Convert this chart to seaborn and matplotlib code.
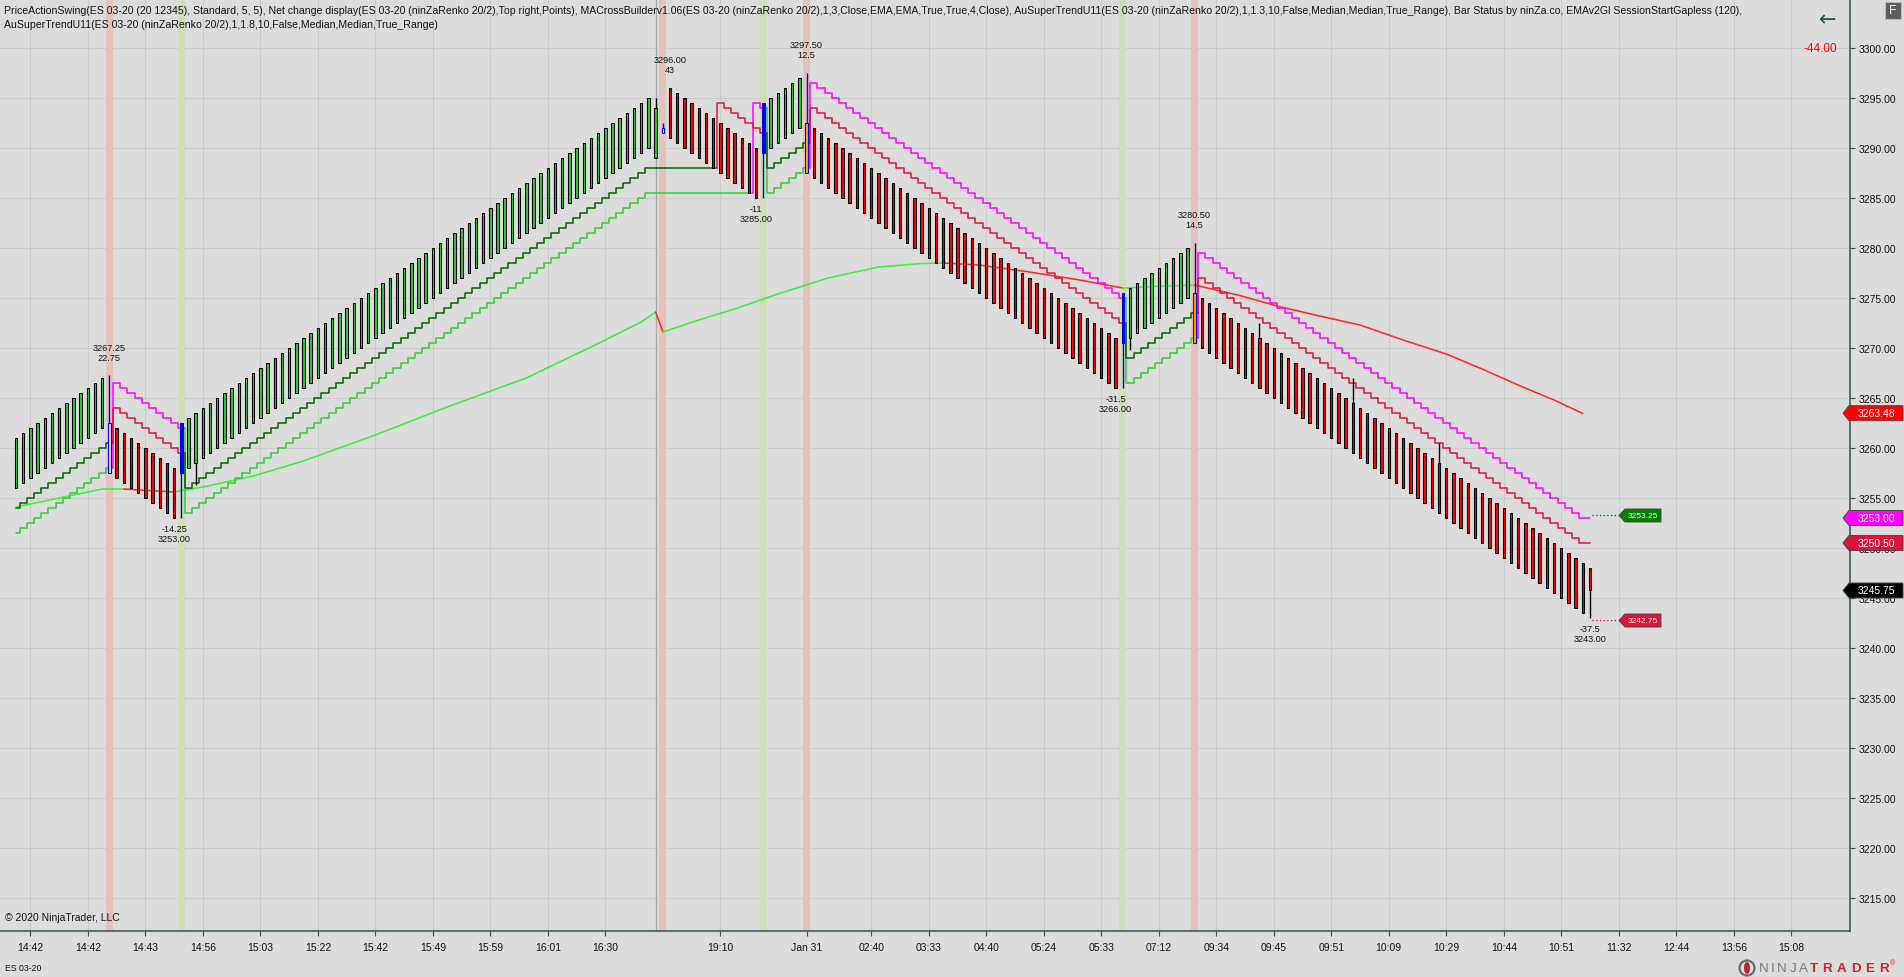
import numpy as np
import matplotlib
matplotlib.use("Agg")
import matplotlib.pyplot as plt
from matplotlib.patches import Polygon, Rectangle, Ellipse
import seaborn as sns

# ---- renko bars (ninZaRenko 20/2), one entry per bar ----
bar_open = [
    3256.0, 3256.5, 3257.0, 3257.5, 3258.0, 3258.5, 3259.0, 3259.5, 3260.0, 3260.5,
    3261.0, 3261.5, 3262.0,
    3262.5,
    3262.0, 3261.5, 3261.0, 3260.5, 3260.0, 3259.5, 3259.0, 3258.5, 3258.0,
    3257.5,
    3258.0, 3258.5, 3259.0, 3259.5, 3260.0, 3260.5, 3261.0, 3261.5, 3262.0, 3262.5,
    3263.0, 3263.5, 3264.0, 3264.5, 3265.0, 3265.5, 3266.0, 3266.5, 3267.0, 3267.5,
    3268.0, 3268.5, 3269.0, 3269.5, 3270.0, 3270.5, 3271.0, 3271.5, 3272.0, 3272.5,
    3273.0, 3273.5, 3274.0, 3274.5, 3275.0, 3275.5, 3276.0, 3276.5, 3277.0, 3277.5,
    3278.0, 3278.5, 3279.0, 3279.5, 3280.0, 3280.5, 3281.0, 3281.5, 3282.0, 3282.5,
    3283.0, 3283.5, 3284.0, 3284.5, 3285.0, 3285.5, 3286.0, 3286.5, 3287.0, 3287.5,
    3288.0, 3288.5, 3289.0, 3289.5, 3290.0,
    3289.0, 3292.0,
    3296.0, 3295.5, 3295.0, 3294.5, 3294.0, 3293.5, 3293.0, 3292.5, 3292.0, 3291.5,
    3291.0, 3290.5, 3290.0,
    3289.5,
    3290.0, 3290.5, 3291.0, 3291.5, 3292.0,
    3292.5,
    3292.0, 3291.5, 3291.0, 3290.5, 3290.0, 3289.5, 3289.0, 3288.5, 3288.0, 3287.5,
    3287.0, 3286.5, 3286.0, 3285.5, 3285.0, 3284.5, 3284.0, 3283.5, 3283.0, 3282.5,
    3282.0, 3281.5, 3281.0, 3280.5, 3280.0, 3279.5, 3279.0, 3278.5, 3278.0, 3277.5,
    3277.0, 3276.5, 3276.0, 3275.5, 3275.0, 3274.5, 3274.0, 3273.5, 3273.0, 3272.5,
    3272.0, 3271.5, 3271.0,
    3270.5,
    3271.0, 3271.5, 3272.0, 3272.5, 3273.0, 3273.5, 3274.0, 3274.5, 3275.0,
    3275.5,
    3275.0, 3274.5, 3274.0, 3273.5, 3273.0, 3272.5, 3272.0, 3271.5, 3271.0, 3270.5,
    3270.0, 3269.5, 3269.0, 3268.5, 3268.0, 3267.5, 3267.0, 3266.5, 3266.0, 3265.5,
    3265.0, 3264.5, 3264.0, 3263.5, 3263.0, 3262.5, 3262.0, 3261.5, 3261.0, 3260.5,
    3260.0, 3259.5, 3259.0, 3258.5, 3258.0, 3257.5, 3257.0, 3256.5, 3256.0, 3255.5,
    3255.0, 3254.5, 3254.0, 3253.5, 3253.0, 3252.5, 3252.0, 3251.5, 3251.0, 3250.5,
    3250.0, 3249.5, 3249.0, 3248.5,
    3248.0,
]

bar_close = [
    3261.0, 3261.5, 3262.0, 3262.5, 3263.0, 3263.5, 3264.0, 3264.5, 3265.0, 3265.5,
    3266.0, 3266.5, 3267.0,
    3257.5,
    3257.0, 3256.5, 3256.0, 3255.5, 3255.0, 3254.5, 3254.0, 3253.5, 3253.0,
    3262.5,
    3263.0, 3263.5, 3264.0, 3264.5, 3265.0, 3265.5, 3266.0, 3266.5, 3267.0, 3267.5,
    3268.0, 3268.5, 3269.0, 3269.5, 3270.0, 3270.5, 3271.0, 3271.5, 3272.0, 3272.5,
    3273.0, 3273.5, 3274.0, 3274.5, 3275.0, 3275.5, 3276.0, 3276.5, 3277.0, 3277.5,
    3278.0, 3278.5, 3279.0, 3279.5, 3280.0, 3280.5, 3281.0, 3281.5, 3282.0, 3282.5,
    3283.0, 3283.5, 3284.0, 3284.5, 3285.0, 3285.5, 3286.0, 3286.5, 3287.0, 3287.5,
    3288.0, 3288.5, 3289.0, 3289.5, 3290.0, 3290.5, 3291.0, 3291.5, 3292.0, 3292.5,
    3293.0, 3293.5, 3294.0, 3294.5, 3295.0,
    3294.0, 3291.5,
    3291.0, 3290.5, 3290.0, 3289.5, 3289.0, 3288.5, 3288.0, 3287.5, 3287.0, 3286.5,
    3286.0, 3285.5, 3285.0,
    3294.5,
    3295.0, 3295.5, 3296.0, 3296.5, 3297.0,
    3287.5,
    3287.0, 3286.5, 3286.0, 3285.5, 3285.0, 3284.5, 3284.0, 3283.5, 3283.0, 3282.5,
    3282.0, 3281.5, 3281.0, 3280.5, 3280.0, 3279.5, 3279.0, 3278.5, 3278.0, 3277.5,
    3277.0, 3276.5, 3276.0, 3275.5, 3275.0, 3274.5, 3274.0, 3273.5, 3273.0, 3272.5,
    3272.0, 3271.5, 3271.0, 3270.5, 3270.0, 3269.5, 3269.0, 3268.5, 3268.0, 3267.5,
    3267.0, 3266.5, 3266.0,
    3275.5,
    3276.0, 3276.5, 3277.0, 3277.5, 3278.0, 3278.5, 3279.0, 3279.5, 3280.0,
    3270.5,
    3270.0, 3269.5, 3269.0, 3268.5, 3268.0, 3267.5, 3267.0, 3266.5, 3266.0, 3265.5,
    3265.0, 3264.5, 3264.0, 3263.5, 3263.0, 3262.5, 3262.0, 3261.5, 3261.0, 3260.5,
    3260.0, 3259.5, 3259.0, 3258.5, 3258.0, 3257.5, 3257.0, 3256.5, 3256.0, 3255.5,
    3255.0, 3254.5, 3254.0, 3253.5, 3253.0, 3252.5, 3252.0, 3251.5, 3251.0, 3250.5,
    3250.0, 3249.5, 3249.0, 3248.5, 3248.0, 3247.5, 3247.0, 3246.5, 3246.0, 3245.5,
    3245.0, 3244.5, 3244.0, 3243.5,
    3245.75,
]

# bars that show a wick (index, low, high)
wick_idx = [13, 23, 25, 89, 90, 104, 110, 154, 155, 164, 173, 186, 198, 219]
wick_low = [3257.5, 3253.0, 3256.25, 3294.0, 3291.5, 3285.0, 3287.5, 3266.0, 3269.75,
            3270.5, 3271.0, 3264.5, 3258.5, 3243.0]
wick_high = [3267.25, 3262.5, 3258.5, 3295.0, 3292.5, 3294.5, 3297.5, 3275.5, 3271.0,
             3280.5, 3272.5, 3267.0, 3260.5, 3248.0]

# Bar Status signal bars
blue_fill_idx = [23, 104, 154]
blue_hollow_idx = [13, 90]
blue_orange_idx = [110, 164]

# MACrossBuilder background bands
band_red_idx = [13, 90, 110, 164]
band_green_idx = [23, 104, 154]

# AuSuperTrendU11 (1.3) - fast
st_fast = [
    3254.0, 3254.5, 3255.0, 3255.5, 3256.0, 3256.5, 3257.0, 3257.5, 3258.0, 3258.5,
    3259.0, 3259.5, 3260.0,
    3260.5,
    3264.0, 3263.5, 3263.0, 3262.5, 3262.0, 3261.5, 3261.0, 3260.5, 3260.0,
    3259.5,
    3256.0, 3256.5, 3257.0, 3257.5, 3258.0, 3258.5, 3259.0, 3259.5, 3260.0, 3260.5,
    3261.0, 3261.5, 3262.0, 3262.5, 3263.0, 3263.5, 3264.0, 3264.5, 3265.0, 3265.5,
    3266.0, 3266.5, 3267.0, 3267.5, 3268.0, 3268.5, 3269.0, 3269.5, 3270.0, 3270.5,
    3271.0, 3271.5, 3272.0, 3272.5, 3273.0, 3273.5, 3274.0, 3274.5, 3275.0, 3275.5,
    3276.0, 3276.5, 3277.0, 3277.5, 3278.0, 3278.5, 3279.0, 3279.5, 3280.0, 3280.5,
    3281.0, 3281.5, 3282.0, 3282.5, 3283.0, 3283.5, 3284.0, 3284.5, 3285.0, 3285.5,
    3286.0, 3286.5, 3287.0, 3287.5, 3288.0,
    3288.0, 3288.0,
    3288.0, 3288.0, 3288.0, 3288.0, 3288.0, 3288.0, 3288.0, 3294.5, 3294.0, 3293.5,
    3293.0, 3292.5, 3292.0,
    3291.5,
    3288.0, 3288.5, 3289.0, 3289.5, 3290.0,
    3290.5,
    3294.0, 3293.5, 3293.0, 3292.5, 3292.0, 3291.5, 3291.0, 3290.5, 3290.0, 3289.5,
    3289.0, 3288.5, 3288.0, 3287.5, 3287.0, 3286.5, 3286.0, 3285.5, 3285.0, 3284.5,
    3284.0, 3283.5, 3283.0, 3282.5, 3282.0, 3281.5, 3281.0, 3280.5, 3280.0, 3279.5,
    3279.0, 3278.5, 3278.0, 3277.5, 3277.0, 3276.5, 3276.0, 3275.5, 3275.0, 3274.5,
    3274.0, 3273.5, 3273.0,
    3272.5,
    3269.0, 3269.5, 3270.0, 3270.5, 3271.0, 3271.5, 3272.0, 3272.5, 3273.0,
    3273.5,
    3277.0, 3276.5, 3276.0, 3275.5, 3275.0, 3274.5, 3274.0, 3273.5, 3273.0, 3272.5,
    3272.0, 3271.5, 3271.0, 3270.5, 3270.0, 3269.5, 3269.0, 3268.5, 3268.0, 3267.5,
    3267.0, 3266.5, 3266.0, 3265.5, 3265.0, 3264.5, 3264.0, 3263.5, 3263.0, 3262.5,
    3262.0, 3261.5, 3261.0, 3260.5, 3260.0, 3259.5, 3259.0, 3258.5, 3258.0, 3257.5,
    3257.0, 3256.5, 3256.0, 3255.5, 3255.0, 3254.5, 3254.0, 3253.5, 3253.0, 3252.5,
    3252.0, 3251.5, 3251.0, 3250.5,
    3250.5,
]
st_fast_flips = [14, 24, 98, 105, 111, 155, 165]

# AuSuperTrendU11 (1.8) - slow
st_slow = [
    3251.5, 3252.0, 3252.5, 3253.0, 3253.5, 3254.0, 3254.5, 3255.0, 3255.5, 3256.0,
    3256.5, 3257.0, 3257.5,
    3258.0,
    3266.5, 3266.0, 3265.5, 3265.0, 3264.5, 3264.0, 3263.5, 3263.0, 3262.5,
    3262.0,
    3253.5, 3254.0, 3254.5, 3255.0, 3255.5, 3256.0, 3256.5, 3257.0, 3257.5, 3258.0,
    3258.5, 3259.0, 3259.5, 3260.0, 3260.5, 3261.0, 3261.5, 3262.0, 3262.5, 3263.0,
    3263.5, 3264.0, 3264.5, 3265.0, 3265.5, 3266.0, 3266.5, 3267.0, 3267.5, 3268.0,
    3268.5, 3269.0, 3269.5, 3270.0, 3270.5, 3271.0, 3271.5, 3272.0, 3272.5, 3273.0,
    3273.5, 3274.0, 3274.5, 3275.0, 3275.5, 3276.0, 3276.5, 3277.0, 3277.5, 3278.0,
    3278.5, 3279.0, 3279.5, 3280.0, 3280.5, 3281.0, 3281.5, 3282.0, 3282.5, 3283.0,
    3283.5, 3284.0, 3284.5, 3285.0, 3285.5,
    3285.5, 3285.5,
    3285.5, 3285.5, 3285.5, 3285.5, 3285.5, 3285.5, 3285.5, 3285.5, 3285.5, 3285.5,
    3285.5, 3285.5, 3294.5,
    3294.0,
    3285.5, 3286.0, 3286.5, 3287.0, 3287.5,
    3288.0,
    3296.5, 3296.0, 3295.5, 3295.0, 3294.5, 3294.0, 3293.5, 3293.0, 3292.5, 3292.0,
    3291.5, 3291.0, 3290.5, 3290.0, 3289.5, 3289.0, 3288.5, 3288.0, 3287.5, 3287.0,
    3286.5, 3286.0, 3285.5, 3285.0, 3284.5, 3284.0, 3283.5, 3283.0, 3282.5, 3282.0,
    3281.5, 3281.0, 3280.5, 3280.0, 3279.5, 3279.0, 3278.5, 3278.0, 3277.5, 3277.0,
    3276.5, 3276.0, 3275.5,
    3275.0,
    3266.5, 3267.0, 3267.5, 3268.0, 3268.5, 3269.0, 3269.5, 3270.0, 3270.5,
    3271.0,
    3279.5, 3279.0, 3278.5, 3278.0, 3277.5, 3277.0, 3276.5, 3276.0, 3275.5, 3275.0,
    3274.5, 3274.0, 3273.5, 3273.0, 3272.5, 3272.0, 3271.5, 3271.0, 3270.5, 3270.0,
    3269.5, 3269.0, 3268.5, 3268.0, 3267.5, 3267.0, 3266.5, 3266.0, 3265.5, 3265.0,
    3264.5, 3264.0, 3263.5, 3263.0, 3262.5, 3262.0, 3261.5, 3261.0, 3260.5, 3260.0,
    3259.5, 3259.0, 3258.5, 3258.0, 3257.5, 3257.0, 3256.5, 3256.0, 3255.5, 3255.0,
    3254.5, 3254.0, 3253.5, 3253.0,
    3253.0,
]
st_slow_flips = [14, 24, 103, 105, 111, 155, 165]

# EMAv2Gl SessionStartGapless (120), read at these bars
ema_idx = [0, 6, 12, 15, 22, 26, 33, 40, 50, 60, 71, 80, 87, 89, 90, 95, 100, 106,
           113, 120, 126, 129, 134, 141, 148, 154, 160, 164, 170, 176, 182, 187, 193,
           199, 204, 209, 214, 218]
ema_val = [3254.1, 3255.0, 3255.9, 3255.9, 3255.6, 3256.1, 3257.2, 3258.7, 3261.3,
           3264.1, 3267.0, 3270.1, 3272.6, 3273.6, 3271.6, 3272.8, 3273.9, 3275.4,
           3277.0, 3278.1, 3278.45, 3278.5, 3278.3, 3277.6, 3276.8, 3276.0, 3276.2,
           3276.3, 3275.3, 3274.1, 3273.1, 3272.3, 3270.8, 3269.4, 3267.9, 3266.3,
           3264.8, 3263.45]

# PriceActionSwing labels
swing_idx = [13, 22, 91, 103, 110, 153, 164, 219]
swing_price = [3267.25, 3253.00, 3296.00, 3285.00, 3297.50, 3266.00, 3280.50, 3243.00]
swing_move = ["22.75", "-14.25", "43", "-11", "12.5", "-31.5", "14.5", "-37.5"]
swing_high = [True, False, True, False, True, False, True, False]

# time axis
time_tick_idx = [2, 10, 18, 26, 34, 42, 50, 58, 66, 74, 82, 98, 110, 119, 127, 135,
                 143, 151, 159, 167, 175, 183, 191, 199, 207, 215, 223, 231, 239, 247]
time_tick_lbl = ["14:42", "14:42", "14:43", "14:56", "15:03", "15:22", "15:42", "15:49",
                 "15:59", "16:01", "16:30", "19:10", "Jan 31", "02:40", "03:33", "04:40",
                 "05:24", "05:33", "07:12", "09:34", "09:45", "09:51", "10:09", "10:29",
                 "10:44", "10:51", "11:32", "12:44", "13:56", "15:08"]
session_break_idx = 89
price_ticks = [3215, 3220, 3225, 3230, 3235, 3240, 3245, 3250, 3255, 3260, 3265, 3270,
               3275, 3280, 3285, 3290, 3295, 3300]

# right-hand price markers
axis_marks = [3263.48, 3253.00, 3250.50, 3245.75]
axis_mark_colors = ["#ff0000", "#ff00ff", "#dc143c", "#000000"]
swing_marks = [3253.25, 3242.75]
swing_mark_colors = ["#008000", "#dc143c"]
net_change = "-44.00"

title_1 = ("PriceActionSwing(ES 03-20 (20 12345), Standard, 5, 5), Net change display(ES 03-20 "
           "(ninZaRenko 20/2),Top right,Points), MACrossBuilderv1.06(ES 03-20 (ninZaRenko 20/2),"
           "1,3,Close,EMA,EMA,True,True,4,Close), AuSuperTrendU11(ES 03-20 (ninZaRenko 20/2),"
           "1,1.3,10,False,Median,Median,True_Range), Bar Status by ninZa.co, EMAv2Gl "
           "SessionStartGapless (120),")
title_2 = "AuSuperTrendU11(ES 03-20 (ninZaRenko 20/2),1,1.8,10,False,Median,Median,True_Range)"

BG = "#dcdcdc"
GRID = "#cbcbcb"
SPINE = "#2f4f4f"
TXT = "#141414"
W, H = 1904, 978

sns.set_theme(style="whitegrid", rc={"axes.facecolor": BG, "figure.facecolor": BG,
                                     "grid.color": GRID, "axes.edgecolor": SPINE})
plt.rcParams["font.family"] = ["Liberation Sans", "DejaVu Sans"]

fig = plt.figure(figsize=(W / 100, H / 100), dpi=100)
ax = fig.add_axes([0, 46 / H, 1850 / W, 932 / H])
ax.set_xlim(-2.226, 255.18)
ax.set_ylim(3211.7, 3304.9)

# grid, session line and signal bands
ax.set_axisbelow(True)
ax.grid(True, color=GRID, lw=0.8)
ax.axvline(session_break_idx, color="#a9a9a9", lw=0.9, zorder=0.8)
for i in band_red_idx:
    ax.axvspan(i - 0.5, i + 0.5, color="#e7c2bd", lw=0, zorder=1)
for i in band_green_idx:
    ax.axvspan(i - 0.5, i + 0.5, color="#d1dcb9", lw=0, zorder=1)

# EMA coloured by slope
ema_x = np.array(ema_idx)
ema_y = np.array(ema_val)
rising = np.diff(ema_y) >= 0
start = 0
for k in range(1, len(rising) + 1):
    if k == len(rising) or rising[k] != rising[start]:
        col = "#3df03d" if rising[start] else "#ff2a2a"
        sns.lineplot(x=ema_x[start:k + 1], y=ema_y[start:k + 1], color=col, lw=1.15,
                     estimator=None, sort=False, legend=False, ax=ax, zorder=2)
        start = k


def draw_trend(values, flips, up_col, dn_col):
    bounds = [0] + flips + [len(values)]
    for k in range(len(bounds) - 1):
        a, b = bounds[k], bounds[k + 1]
        col = up_col if k % 2 == 0 else dn_col
        xs = list(range(a, b))
        ys = list(values[a:b])
        if a > 0:
            xs = [a - 0.5, a - 0.5] + xs
            ys = [values[a - 1], values[a]] + ys
        if b < len(values):
            xs = xs + [b - 0.5]
            ys = ys + [values[b - 1]]
        sns.lineplot(x=xs, y=ys, color=col, lw=1.1, drawstyle="steps-mid",
                     estimator=None, sort=False, legend=False, ax=ax, zorder=3)


draw_trend(st_slow, st_slow_flips, "#32cd32", "#ff00ff")
draw_trend(st_fast, st_fast_flips, "#006400", "#dc143c")

# candles
n = len(bar_open)
xi = np.arange(n)
o = np.array(bar_open)
c = np.array(bar_close)
faces = ["#2ec82e" if c[i] >= o[i] else "#ff0000" for i in range(n)]
edges = ["black"] * n
for i in blue_fill_idx:
    faces[i], edges[i] = "#0000ff", "#0000ff"
for i in blue_hollow_idx:
    faces[i], edges[i] = BG, "#0000ff"
for i in blue_orange_idx:
    faces[i], edges[i] = "#ffa500", "#0000ff"
blue_set = set(blue_fill_idx + blue_hollow_idx + blue_orange_idx)
wick_cols = ["#0000ff" if i in blue_set else "black" for i in wick_idx]
ax.vlines(wick_idx, wick_low, wick_high, colors=wick_cols, lw=1.0, zorder=4)
ax.bar(xi, c - o, bottom=o, width=0.34, color=faces, edgecolor=edges, lw=0.75, zorder=5)

# swing labels
for i, p, m, hi in zip(swing_idx, swing_price, swing_move, swing_high):
    if hi:
        lines = [(f"{p:.2f}", 20.2), (m, 13.0)]
    else:
        lines = [(m, -7.9), (f"{p:.2f}", -15.1)]
    for txt, dy in lines:
        ax.annotate(txt, xy=(i, p), xytext=(0, dy), textcoords="offset points",
                    ha="center", va="center", fontsize=6.6, color=TXT, zorder=6)

# dotted lines to the swing markers
for p, col in zip(swing_marks, swing_mark_colors):
    ax.plot([n - 1 + 0.3, n - 1 + 3.9], [p, p], ls=":", lw=1.0, color=col, zorder=3)

# axes styling
for side in ["top", "left"]:
    ax.spines[side].set_visible(False)
for side in ["right", "bottom"]:
    ax.spines[side].set_color(SPINE)
    ax.spines[side].set_linewidth(1.1)
ax.yaxis.tick_right()
ax.set_yticks(price_ticks)
ax.set_yticklabels([f"{v:.2f}" for v in price_ticks])
ax.set_xticks(time_tick_idx)
ax.set_xticklabels(time_tick_lbl)
ax.tick_params(axis="x", bottom=True, direction="out", length=3.6, width=0.8,
               color=SPINE, pad=4.5, labelsize=7.5, labelcolor=TXT)
ax.tick_params(axis="y", right=True, left=False, labelright=True, labelleft=False,
               direction="out", length=3.6, width=0.8, color=SPINE, pad=2.5,
               labelsize=7.5, labelcolor=TXT)
ax.set_xlabel("")
ax.set_ylabel("")

fig.canvas.draw()
renderer = fig.canvas.get_renderer()


def price_flag(price, label, face, x_tip, x_end, h, fsize, tcol):
    y = ax.transData.transform((0, price))[1]
    pts = [(x_tip, y), (x_tip + 6, y + h / 2), (x_end, y + h / 2),
           (x_end, y - h / 2), (x_tip + 6, y - h / 2)]
    pts = [(px / W, py / H) for px, py in pts]
    fig.add_artist(Polygon(pts, closed=True, transform=fig.transFigure, facecolor=face,
                           edgecolor="#4a4a4a", lw=0.7, zorder=20))
    fig.text((x_tip + 6 + x_end) / 2 / W, y / H, label, ha="center", va="center",
             color=tcol, fontsize=fsize, zorder=21)


for p, col in zip(axis_marks, axis_mark_colors):
    price_flag(p, f"{p:.2f}", col, 1843, 1903, 15, 7.5, "white")
for p, col in zip(swing_marks, swing_mark_colors):
    price_flag(p, f"{p:.2f}", col, 1619, 1661, 13, 6.0, "#f4f4e0")

# header / footer texts
fig.text(4 / W, 1 - 11 / H, title_1, fontsize=7.6, color=TXT, va="center", ha="left")
fig.text(4 / W, 1 - 25 / H, title_2, fontsize=7.6, color=TXT, va="center", ha="left")
fig.text(1837 / W, 1 - 49 / H, net_change, fontsize=8.5, color="#ff0000", va="center",
         ha="right")
fig.text(1828 / W, 1 - 20 / H, "\u2190", fontsize=15, color=SPINE, va="center",
         ha="center", family="DejaVu Sans")
fig.add_artist(Rectangle((1885 / W, 1 - 20 / H), 16 / W, 17 / H, transform=fig.transFigure,
                         facecolor="#5c5c5c", edgecolor="#b8b8b8", lw=0.8))
fig.text(1893 / W, 1 - 11.5 / H, "F", fontsize=9, color="white", va="center", ha="center")
fig.text(5 / W, 1 - 918 / H, "\u00a9 2020 NinjaTrader, LLC", fontsize=7.5, color=TXT,
         va="center", ha="left")
fig.text(5 / W, 1 - 969 / H, "ES 03-20", fontsize=6.3, color=TXT, va="center", ha="left")

# NinjaTrader logo, letter-spaced
fig.add_artist(Ellipse((1747 / W, 1 - 969 / H), 15 / W, 15 / H, transform=fig.transFigure,
                       facecolor="none", edgecolor="#6a6a6a", lw=1.6))
fig.add_artist(Ellipse((1747 / W, 1 - 969 / H), 6 / W, 12 / H, transform=fig.transFigure,
                       facecolor="#c0242c", edgecolor="none"))
xpos = 1759.0
for word, col, weight, track in [("NINJA", "#7a7a7a", "normal", 2.4),
                                 ("TRADER", "#d4202a", "bold", 4.6)]:
    for ch in word:
        t = fig.text(xpos / W, 1 - 969 / H, ch, fontsize=9.6, color=col, va="center",
                     ha="left", fontweight=weight)
        xpos += t.get_window_extent(renderer).width + track
fig.text((xpos - 3) / W, 1 - 964 / H, "\u00ae", fontsize=5, color="#d4202a",
         va="center", ha="left")

fig.savefig("out.png", dpi=100, facecolor=BG)
